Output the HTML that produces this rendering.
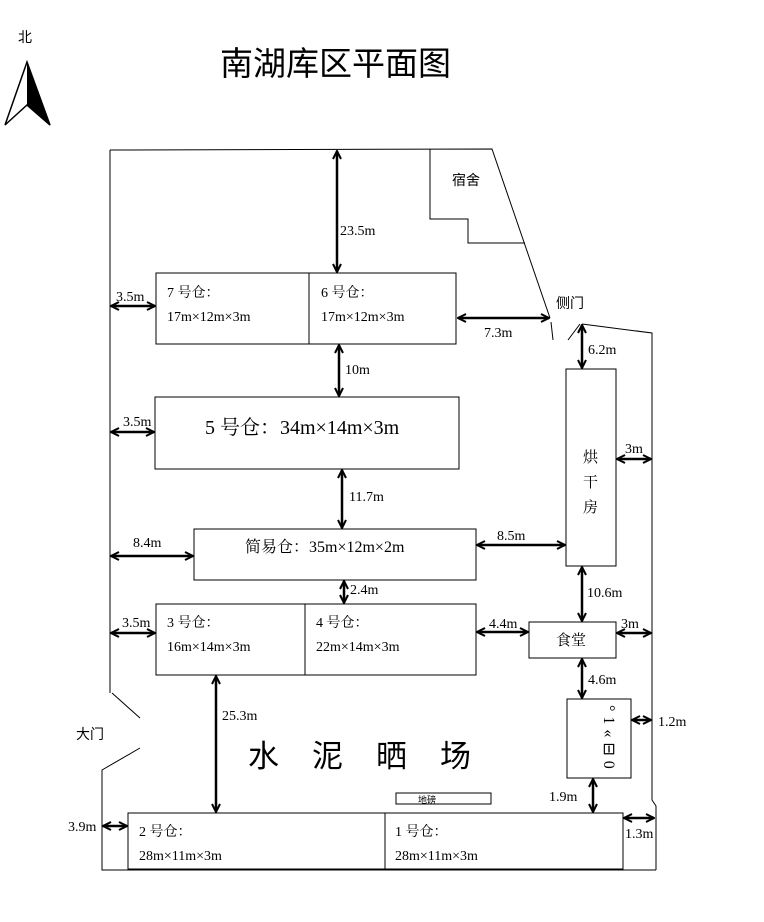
<!DOCTYPE html>
<html><head><meta charset="utf-8"><style>
html,body{margin:0;padding:0;background:#fff;}
svg{display:block;}
text{font-family:"Liberation Serif","Noto Serif CJK SC","Noto Sans CJK SC",serif;fill:#000;}
.s{font-family:"Liberation Sans","Noto Sans CJK SC",sans-serif;}
</style></head><body>
<svg width="764" height="922" viewBox="0 0 764 922" xmlns="http://www.w3.org/2000/svg">
<defs>
<marker id="a" viewBox="0 0 10 10" refX="9" refY="5" markerWidth="4" markerHeight="4" orient="auto-start-reverse" markerUnits="strokeWidth">
<polyline points="1,1 9,5 1,9" fill="none" stroke="#000" stroke-width="2"/>
</marker>
</defs>
<g fill="none" stroke="#000" stroke-width="1">
<polyline points="110,150 492,149 550,318"/>
<line x1="551" y1="322" x2="553" y2="340"/>
<polyline points="430,149 430,219 468,219 468,243 525,243"/>
<line x1="568" y1="340" x2="580" y2="324"/>
<polyline points="582,324 652,333 652,800 656,806 656,870"/>
<line x1="110" y1="150" x2="110" y2="693"/>
<line x1="112" y1="693" x2="140" y2="718"/>
<polyline points="140,748 102,770 102,870 656,870"/>
<rect x="156" y="273" width="300" height="71"/>
<line x1="309" y1="273" x2="309" y2="344"/>
<rect x="155" y="397" width="304" height="72"/>
<rect x="194" y="529" width="282" height="51"/>
<rect x="156" y="604" width="320" height="71"/>
<line x1="305" y1="604" x2="305" y2="675"/>
<rect x="566" y="369" width="50" height="197"/>
<rect x="529" y="622" width="87" height="36"/>
<rect x="567" y="699" width="64" height="79"/>
<rect x="128" y="813" width="495" height="56"/>
<line x1="385" y1="813" x2="385" y2="869"/>
<rect x="396" y="793" width="95" height="11"/>
</g>
<g stroke="#000" stroke-width="2.5" marker-start="url(#a)" marker-end="url(#a)">
<line x1="337" y1="151" x2="337" y2="272"/>
<line x1="111" y1="306" x2="155" y2="306"/>
<line x1="458" y1="318" x2="549" y2="318"/>
<line x1="339" y1="345" x2="339" y2="396"/>
<line x1="111" y1="432" x2="154" y2="432"/>
<line x1="342" y1="470" x2="342" y2="528"/>
<line x1="111" y1="556" x2="193" y2="556"/>
<line x1="477" y1="545" x2="565" y2="545"/>
<line x1="344" y1="581" x2="344" y2="603"/>
<line x1="111" y1="633" x2="155" y2="633"/>
<line x1="477" y1="632" x2="528" y2="632"/>
<line x1="582" y1="325" x2="582" y2="368"/>
<line x1="617" y1="459" x2="651" y2="459"/>
<line x1="582" y1="567" x2="582" y2="621"/>
<line x1="617" y1="633" x2="651" y2="633"/>
<line x1="582" y1="659" x2="582" y2="698"/>
<line x1="632" y1="720" x2="651" y2="720"/>
<line x1="593" y1="779" x2="593" y2="812"/>
<line x1="624" y1="818" x2="654" y2="818"/>
<line x1="103" y1="826" x2="127" y2="826"/>
<line x1="216" y1="676" x2="216" y2="812"/>
</g>
<polygon points="27,62 5,125 27,105 50,125" fill="none" stroke="#000" stroke-width="1.5"/>
<polygon points="27,62 27,105 50,125" fill="#000"/>
<text x="18" y="42" font-size="14" class="s">北</text>
<text x="220" y="75" font-size="33" class="s">南湖库区平面图</text>
<text x="452" y="185" font-size="14" class="s">宿舍</text>
<text x="556" y="308" font-size="14" class="s">侧门</text>
<text x="76" y="739" font-size="14" class="s">大门</text>
<g font-size="14">
<text x="340" y="235">23.5m</text>
<text x="116" y="301">3.5m</text>
<text x="484" y="337">7.3m</text>
<text x="345" y="374">10m</text>
<text x="123" y="426">3.5m</text>
<text x="349" y="501">11.7m</text>
<text x="133" y="547">8.4m</text>
<text x="497" y="540">8.5m</text>
<text x="350" y="594">2.4m</text>
<text x="122" y="627">3.5m</text>
<text x="489" y="628">4.4m</text>
<text x="588" y="354">6.2m</text>
<text x="625" y="453">3m</text>
<text x="587" y="597">10.6m</text>
<text x="621" y="628">3m</text>
<text x="588" y="684">4.6m</text>
<text x="658" y="726">1.2m</text>
<text x="549" y="801">1.9m</text>
<text x="625" y="838">1.3m</text>
<text x="68" y="831">3.9m</text>
<text x="222" y="720">25.3m</text>
</g>
<g font-size="14">
<text x="167" y="297">7 号仓：</text>
<text x="167" y="321">17m×12m×3m</text>
<text x="321" y="297">6 号仓：</text>
<text x="321" y="321">17m×12m×3m</text>
<text x="205" y="434" font-size="20">5 号仓：34m×14m×3m</text>
<text x="245" y="552" font-size="16">简易仓：35m×12m×2m</text>
<text x="167" y="627">3 号仓：</text>
<text x="167" y="651">16m×14m×3m</text>
<text x="316" y="627">4 号仓：</text>
<text x="316" y="651">22m×14m×3m</text>
<text x="139" y="836">2 号仓：</text>
<text x="139" y="860">28m×11m×3m</text>
<text x="395" y="836">1 号仓：</text>
<text x="395" y="860">28m×11m×3m</text>
</g>
<g font-size="15" class="s">
<text x="583" y="462">烘</text>
<text x="583" y="487">干</text>
<text x="583" y="512">房</text>
<text x="556" y="645">食堂</text>
</g>
<text x="248" y="767" font-size="31" class="s" letter-spacing="33">水泥晒场</text>
<text x="418" y="803" font-size="9" class="s">地磅</text>
<text x="604" y="705" font-size="16" letter-spacing="5" transform="rotate(90 604 705)">°1«⊟0</text>
</svg>
</body></html>
